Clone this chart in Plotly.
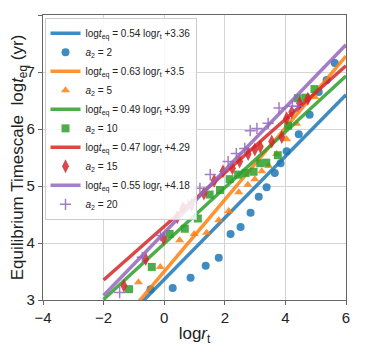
import plotly.graph_objects as go

# --- data ------------------------------------------------------------------
a2_values = [2, 5, 10, 15, 20]
slopes = [0.54, 0.63, 0.49, 0.47, 0.55]
intercepts = [3.36, 3.5, 3.99, 4.29, 4.18]
fit_x = [-2, 6]

logr_a2_2 = [-0.45, 0.28, 0.87, 1.37, 1.80, 2.19, 2.52, 2.85, 3.12, 3.38,
             3.65, 3.84, 4.04, 4.44, 4.80, 5.10, 5.36, 5.63]
logt_a2_2 = [3.19, 3.21, 3.39, 3.60, 3.74, 4.16, 4.28, 4.53, 4.81, 4.98,
             5.23, 5.40, 5.61, 5.91, 6.25, 6.65, 6.86, 7.16]

logr_a2_5 = [-0.85, -0.13, 0.51, 0.99, 1.40, 1.80, 2.13, 2.46, 2.76, 2.99,
             3.22, 3.45, 3.71, 4.04, 4.37, 4.97]
logt_a2_5 = [3.31, 3.58, 4.05, 4.16, 4.18, 4.40, 4.56, 4.89, 5.02, 5.12,
             5.26, 5.35, 5.56, 5.82, 6.09, 6.56]

logr_a2_10 = [-1.16, -0.41, 0.18, 0.68, 1.11, 1.50, 1.84, 2.16, 2.44, 2.69,
              2.95, 3.17, 3.37, 3.75, 4.09, 4.41, 4.67, 4.96]
logt_a2_10 = [3.19, 3.58, 4.16, 4.25, 4.43, 4.85, 4.93, 5.12, 5.20, 5.23,
              5.25, 5.40, 5.41, 5.54, 6.06, 6.54, 6.55, 6.70]

logr_a2_15 = [-1.33, -0.61, -0.02, 0.43, 0.62, 0.90, 1.31, 1.65, 1.94, 2.25,
              2.49, 2.77, 2.99, 3.17, 3.55, 3.88, 4.04, 4.21, 4.47, 4.74]
logt_a2_15 = [3.25, 3.72, 4.08, 4.45, 4.61, 4.67, 4.87, 5.09, 5.26, 5.31,
              5.43, 5.56, 5.64, 5.69, 5.78, 5.86, 6.19, 6.30, 6.45, 6.53]

logr_a2_20 = [-1.47, -0.72, -0.12, 0.79, 1.18, 1.52, 2.11, 2.38, 2.66, 2.84,
              3.06, 3.43, 3.79, 4.23, 4.41]
logt_a2_20 = [3.13, 3.75, 4.13, 4.67, 4.96, 5.20, 5.43, 5.57, 5.66, 5.97,
              6.01, 6.10, 6.37, 6.40, 6.40]

xs = [logr_a2_2, logr_a2_5, logr_a2_10, logr_a2_15, logr_a2_20]
ys = [logt_a2_2, logt_a2_5, logt_a2_10, logt_a2_15, logt_a2_20]

colors = ["#1f77b4", "#ff7f0e", "#2ca02c", "#d62728", "#9467bd"]
symbols = ["circle", "triangle-up", "square", "diamond-tall", "cross-thin"]

fig = go.Figure()

for i, a2 in enumerate(a2_values):
    a, b = slopes[i], intercepts[i]
    fig.add_trace(go.Scatter(
        x=fit_x, y=[a * x + b for x in fit_x], mode="lines",
        line=dict(color=colors[i], width=3.5), opacity=0.85,
        name=f"log<i>t</i><sub>eq</sub> = {a} log<i>r</i><sub>t</sub> +{b}",
    ))
    if symbols[i] == "cross-thin":
        marker = dict(symbol="cross-thin", size=8,
                      line=dict(color=colors[i], width=1.5))
    elif symbols[i] == "diamond-tall":
        marker = dict(symbol="diamond-tall", size=10, color=colors[i])
    else:
        marker = dict(symbol=symbols[i], size=8, color=colors[i])
    fig.add_trace(go.Scatter(
        x=xs[i], y=ys[i], mode="markers", marker=marker, opacity=0.85,
        name=f"<i>a</i><sub>2</sub> = {a2}",
    ))

axis_common = dict(
    showline=True, mirror=True, linecolor="#666", linewidth=1.2,
    showgrid=True, gridcolor="#d4d4d4", gridwidth=1,
    ticks="outside", ticklen=4, tickcolor="#666",
    tickfont=dict(size=15, color="#222"), zeroline=False,
    automargin=False,
)

fig.update_xaxes(range=[-4, 6], dtick=2,
                 title=dict(text="log<i>r</i><sub>t</sub>",
                            font=dict(size=17, color="#222"), standoff=2),
                 **axis_common)
fig.update_yaxes(range=[3, 8], dtick=1,
                 title=dict(text="Equilibrium Timescale  log<i>t</i><sub>eq</sub> (yr)",
                            font=dict(size=17, color="#222"), standoff=1),
                 **axis_common)

# the page body adds an 8px offset, so margins are shifted by that amount
fig.update_layout(
    width=374, height=354,
    margin=dict(l=35, r=36, t=7, b=62),
    paper_bgcolor="white", plot_bgcolor="white",
    font=dict(family="Liberation Sans, Arial, sans-serif", color="#222"),
    legend=dict(
        x=0.005, y=0.99, xanchor="left", yanchor="top",
        bgcolor="rgba(255,255,255,0.85)", bordercolor="#ccc", borderwidth=1,
        font=dict(size=10), itemwidth=30, tracegroupgap=0,
    ),
)

fig.write_html("out.html")
